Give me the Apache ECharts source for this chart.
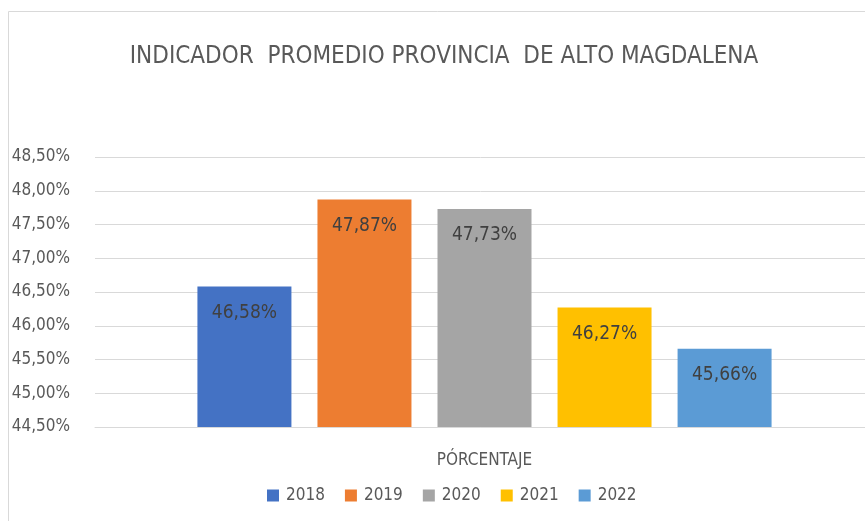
<!DOCTYPE html>
<html>
<head>
<meta charset="utf-8">
<script src="https://cdn.jsdelivr.net/npm/echarts@6/dist/echarts.min.js"></script>
<style>
  html, body { margin: 0; padding: 0; background: #fff; }
  #chart { width: 865px; height: 521px; }
</style>
</head>
<body>
<div id="chart"></div>
<script>
var years = ['2018', '2019', '2020', '2021', '2022'];
var values = [46.58, 47.87, 47.73, 46.27, 45.66];
var colors = ['#4472C4', '#ED7D31', '#A5A5A5', '#FFC000', '#5B9BD5'];
var category = ['PÓRCENTAJE'];

var font = '"Liberation Sans Narrow", "DejaVu Sans Condensed", sans-serif';

function pct(v) {
  return v.toFixed(2).replace('.', ',') + '%';
}

var chart = echarts.init(document.getElementById('chart'));

var series = years.map(function(y, i) {
  return {
    name: y,
    type: 'bar',
    data: [values[i]],
    barWidth: 94,
    barGap: '27.7%',
    itemStyle: { color: colors[i] },
    label: {
      show: true,
      position: 'insideTop',
      distance: 17,
      color: '#404040',
      fontFamily: font,
      fontSize: 19,
      formatter: function(p) { return pct(p.value); }
    }
  };
});

chart.setOption({
  animation: false,
  title: {
    text: 'INDICADOR  PROMEDIO PROVINCIA  DE ALTO MAGDALENA',
    left: 439,
    top: 40,
    textAlign: 'center',
    textStyle: {
      fontFamily: font,
      fontWeight: 'normal',
      fontSize: 24,
      color: '#595959'
    }
  },
  legend: {
    data: years,
    bottom: 12,
    left: 262,
    itemWidth: 12,
    itemHeight: 12,
    itemGap: 20,
    icon: 'rect',
    textStyle: { fontFamily: font, fontSize: 17, color: '#595959', padding: [0, 0, 0, 2] }
  },
  grid: { left: 95, top: 157, width: 779, height: 270, outerBoundsMode: 'none' },
  xAxis: {
    type: 'category',
    data: category,
    axisLine: { lineStyle: { color: '#d9d9d9' } },
    axisTick: { show: false },
    axisLabel: { margin: 25, fontFamily: font, fontSize: 17, color: '#595959' }
  },
  yAxis: {
    type: 'value',
    min: 44.5,
    max: 48.5,
    interval: 0.5,
    axisLine: { show: false },
    axisTick: { show: false },
    splitLine: { lineStyle: { color: '#d9d9d9' } },
    axisLabel: {
      margin: 25,
      fontFamily: font,
      fontSize: 17,
      color: '#595959',
      formatter: pct
    }
  },
  graphic: [{
    type: 'rect',
    shape: { x: 8.5, y: 11.5, width: 900, height: 600 },
    style: { fill: 'none', stroke: '#d9d9d9', lineWidth: 1 },
    silent: true
  }],
  series: series
});
</script>
</body>
</html>
